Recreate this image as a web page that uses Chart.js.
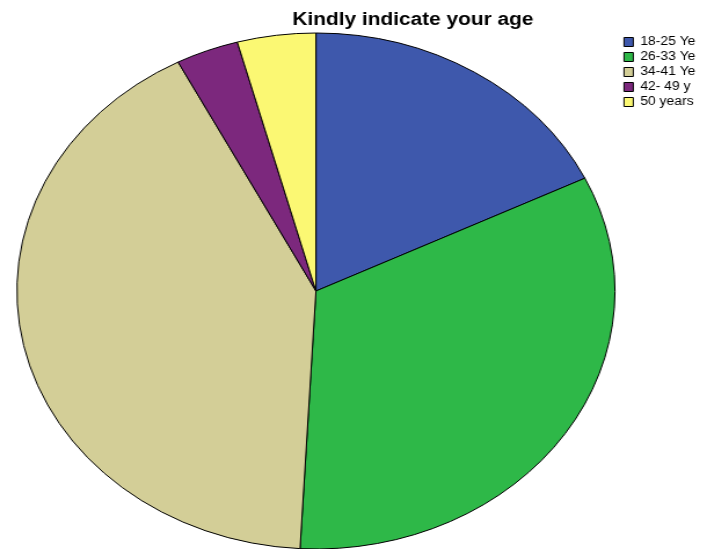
<!DOCTYPE html>
<html>
<head>
<meta charset="utf-8">
<script src="https://cdn.jsdelivr.net/npm/chart.js@4/dist/chart.umd.min.js"></script>
<style>
  html, body { margin: 0; padding: 0; background: #ffffff; overflow: hidden; }
  #wrap { width: 707px; height: 549px; overflow: hidden; }
  #c { display: block; transform-origin: 0 0; transform: scaleX(1.159); }
</style>
</head>
<body>
<div id="wrap"><canvas id="c" width="610" height="549"></canvas></div>
<script>
// Data
const titleText = 'Kindly indicate your age';
const categories = ['18-25 Ye', '26-33 Ye', '34-41 Ye', '42- 49 y', '50 years'];
const counts = [21, 39, 49, 4, 5];
const sliceColors = ['#3E58AC', '#2EB848', '#D3CE97', '#7C287D', '#FBF873'];

// Layout (unstretched canvas units)
const PIE_CENTER_X = 272.6;

const shiftPie = {
  id: 'shiftPie',
  beforeDatasetsDraw(chart) {
    const arc = chart.getDatasetMeta(0).data[0];
    chart.ctx.save();
    chart.ctx.translate(PIE_CENTER_X - arc.x, 0);
  },
  afterDatasetsDraw(chart) {
    chart.ctx.restore();
  }
};

new Chart(document.getElementById('c'), {
  type: 'pie',
  data: {
    labels: categories,
    datasets: [{
      data: counts,
      backgroundColor: sliceColors,
      borderColor: '#000000',
      borderWidth: 1,
      clip: false
    }]
  },
  options: {
    responsive: false,
    devicePixelRatio: 1,
    animation: false,
    radius: 258,
    layout: { padding: { left: 177.3, right: 0, top: 0, bottom: 0 } },
    plugins: {
      title: {
        display: true,
        text: titleText,
        fullSize: false,
        color: '#000000',
        font: { family: 'Liberation Sans', size: 18, weight: 'bold', lineHeight: 1.2 },
        padding: { top: 9, bottom: 2.4 }
      },
      legend: {
        display: true,
        position: 'right',
        align: 'start',
        fullSize: false,
        labels: {
          boxWidth: 8,
          boxHeight: 9,
          padding: 3,
          color: '#000000',
          font: { family: 'Liberation Sans', size: 12 }
        }
      },
      tooltip: { enabled: false }
    }
  },
  plugins: [shiftPie]
});
</script>
</body>
</html>
